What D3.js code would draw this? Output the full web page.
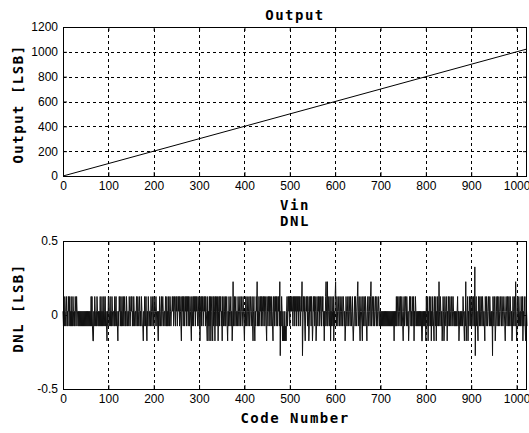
<!DOCTYPE html>
<html>
<head>
<meta charset="utf-8">
<script src="https://cdn.jsdelivr.net/npm/d3@7"></script>
<style>
  body { margin: 0; background: #fff; }
  .tick text { font-family: "Liberation Sans Narrow", "Arial Narrow", "Liberation Sans", sans-serif; font-size: 12px; fill: #000; }
  .tick line { stroke: #000; }
  .label { font-family: "DejaVu Sans Mono", monospace; font-weight: bold; font-size: 14px; letter-spacing: 1.5px; fill: #000; }
</style>
</head>
<body>
<div id="container"></div>
<script>
// Top plot: transfer curve (Vin -> Output code)
let vinValues = [0, 1023];
let outputValues = [0, 1023];
let outXTicks = [0, 100, 200, 300, 400, 500, 600, 700, 800, 900, 1000];
let outYTicks = [0, 200, 400, 600, 800, 1000, 1200];

// Bottom plot: DNL per code.
// each letter is one code, looked up in dnlLevels
let dnlLevels = { a: -0.275, b: -0.175, c: -0.075, d: 0.025, e: 0.125, f: 0.225, g: 0.325 };
let dnlBlocks = [
  "dcdcedcdecdcedec", "dcecdcedcdcedced", "dcdcdcdcdcdcdcdc", "dcdcdcdcdcdcdcec",
  "ecbbdcedcdcedcdc", "dcecdcecdcedcecd", "cbdcedcdecdcedcd", "dcecdecdcbdcedec",
  "dcecdecdecdcedcd", "dcedcdedecdcedcd", "dcedcedcdecdcedc", "cbdcedcecbdcedcd",
  "dcedcdecdedcdedc", "dcbdcedcdecdedcd", "dcedcecdcedcedcd", "dedecdedcedecded",
  "ecedcbedecedcede", "cedecedcedcbecde", "cedecededcedcebd", "ecedecdedecedcbe",
  "cdbecebdecbecedb", "ecedcebdecedecdb", "edcedcecdecbdced", "cdecdbcfcdecdecd",
  "dcedcdecdedcdedc", "bdcedcedcdecdedc", "decbdecbdcedfcdc", "edcedecedcedecde",
  "cbedcedecedcedcb", "edcedecedcedecfa", "dcedbdbcbdbcbdec", "dedecedededcedec",
  "edecedecedecdedf", "acedecbdedecedbc", "edecedbcedecedbc", "edcedecdedcedecd",
  "bdcefdcfcdedcebd", "cedcebdcefdcedcd", "edcedcdecdedcdbc", "edcdecdedcedcdec",
  "bcdecedcdefcdecb", "dedcbedcedcedcbd", "ecdedcefcdedcedc", "dedcedcdedcdcdcd",
  "cdcdcdcdcdcdcdcd", "cdcdcdcdcdbdcdce", "cdecdedcedcedcbd", "ecdedcedcdbcedec",
  "dcedcebdcedcdcdc", "dcdcdcdbbdcdcdcd", "bedcebdcedcebdce", "dcbedcebdcedcfdc",
  "edcdbcedbcedcdeb", "dcedcedcdecdedcd", "cdcdcdecdbcdcdcd", "dcedcbdcfbcdebdc",
  "edcedcedcedcgade", "cdcbedcedcedcedc", "dcbedcedcdedcedc", "dcdaedcedbcedced",
  "cedcdedcedcdedcb", "dedcedcedcedcdbc", "edcedcfdbcedcedc", "dcedcebdcedcbedc"
];
let dnlXTicks = [0, 100, 200, 300, 400, 500, 600, 700, 800, 900, 1000];
let dnlYTicks = [-0.5, 0, 0.5];

let chart_width = 529;
let chart_height = 433;

let svg = d3.select("#container")
  .append("svg")
  .attr("width", chart_width)
  .attr("height", chart_height);

// layout of the two axes boxes
let left = 63, right = 527;
let top1 = 27, bottom1 = 176;
let top2 = 241, bottom2 = 389;

let dnlData = dnlBlocks.join("").split("").map((ch, i) => ({ code: i, dnl: dnlLevels[ch] }));
let outData = vinValues.map((v, i) => ({ vin: v, out: outputValues[i] }));

function drawBox(g, xScale, yScale, xTicks, yTicks, yFmt, hGrid) {
  let y0 = yScale.range()[0], y1 = yScale.range()[1];

  // dashed grid
  g.append("g").selectAll("line")
    .data(xTicks.filter(d => d > 0 && d < xScale.domain()[1]))
    .enter().append("line")
    .attr("x1", d => Math.round(xScale(d)) + 0.5)
    .attr("x2", d => Math.round(xScale(d)) + 0.5)
    .attr("y1", y0).attr("y2", y1)
    .attr("stroke", "#000").attr("stroke-dasharray", "3,3");
  if (hGrid) {
    g.append("g").selectAll("line")
      .data(yTicks.filter(d => d > yScale.domain()[0] && d < yScale.domain()[1]))
      .enter().append("line")
      .attr("y1", d => Math.round(yScale(d)) + 0.5)
      .attr("y2", d => Math.round(yScale(d)) + 0.5)
      .attr("x1", left).attr("x2", right)
      .attr("stroke", "#000").attr("stroke-dasharray", "3,3");
  }

  // axes with inside ticks
  g.append("g")
    .attr("transform", "translate(0," + y0 + ")")
    .call(d3.axisBottom(xScale).tickValues(xTicks).tickSize(-4).tickPadding(5).tickFormat(d3.format("d")))
    .call(a => a.select(".domain").remove());
  g.append("g")
    .attr("transform", "translate(0," + y1 + ")")
    .call(d3.axisTop(xScale).tickValues(xTicks).tickSize(-4).tickFormat(""))
    .call(a => a.select(".domain").remove());
  g.append("g")
    .attr("transform", "translate(" + left + ",0)")
    .call(d3.axisLeft(yScale).tickValues(yTicks).tickSize(-4).tickPadding(5).tickFormat(yFmt))
    .call(a => a.select(".domain").remove());
  g.append("g")
    .attr("transform", "translate(" + right + ",0)")
    .call(d3.axisRight(yScale).tickValues(yTicks).tickSize(-4).tickFormat(""))
    .call(a => a.select(".domain").remove());
}

function drawFrame(g, yScale) {
  let y0 = yScale.range()[0], y1 = yScale.range()[1];
  g.append("rect")
    .attr("x", left + 0.5).attr("y", y1 + 0.5)
    .attr("width", right - left - 1).attr("height", y0 - y1)
    .attr("fill", "none").attr("stroke", "#000");
}

// ---- Output plot
let xOut = d3.scaleLinear().domain([0, 1023]).range([left, right]);
let yOut = d3.scaleLinear().domain([0, 1200]).range([bottom1, top1]);
let g1 = svg.append("g");
drawBox(g1, xOut, yOut, outXTicks, outYTicks, d3.format("d"), true);
g1.append("path")
  .datum(outData)
  .attr("fill", "none")
  .attr("stroke", "#000")
  .attr("stroke-width", 1)
  .attr("d", d3.line().x(d => xOut(d.vin)).y(d => yOut(d.out)));
drawFrame(g1, yOut);

// ---- DNL plot
let xDnl = d3.scaleLinear().domain([0, 1023]).range([left, right]);
let yDnl = d3.scaleLinear().domain([-0.5, 0.5]).range([bottom2, top2]);
let g2 = svg.append("g");
drawBox(g2, xDnl, yDnl, dnlXTicks, dnlYTicks, d => (d < 0 ? "-" : "") + Math.abs(d), false);
g2.append("path")
  .datum(dnlData)
  .attr("fill", "none")
  .attr("stroke", "#111")
  .attr("stroke-width", 1)
  .attr("d", d3.line().x(d => xDnl(d.code)).y(d => yDnl(d.dnl)));
drawFrame(g2, yDnl);

// ---- titles and labels
svg.append("text").attr("class", "label")
  .attr("x", (left + right) / 2).attr("y", 20)
  .attr("text-anchor", "middle").text("Output");
svg.append("text").attr("class", "label")
  .attr("x", (left + right) / 2).attr("y", 210)
  .attr("text-anchor", "middle").text("Vin");
svg.append("text").attr("class", "label")
  .attr("x", (left + right) / 2).attr("y", 226)
  .attr("text-anchor", "middle").text("DNL");
svg.append("text").attr("class", "label")
  .attr("x", (left + right) / 2).attr("y", 423)
  .attr("text-anchor", "middle").text("Code Number");
svg.append("text").attr("class", "label")
  .attr("transform", "translate(23," + 104 + ") rotate(-90)")
  .attr("text-anchor", "middle").text("Output [LSB]");
svg.append("text").attr("class", "label")
  .attr("transform", "translate(23," + 308 + ") rotate(-90)")
  .attr("text-anchor", "middle").text("DNL [LSB]");
</script>
</body>
</html>
